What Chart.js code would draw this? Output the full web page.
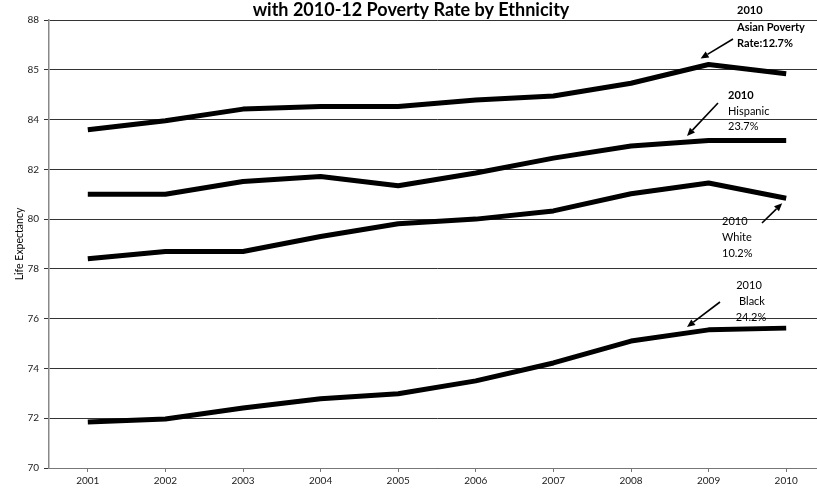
<!DOCTYPE html>
<html>
<head>
<meta charset="utf-8">
<script src="https://cdn.jsdelivr.net/npm/chart.js@4/dist/chart.umd.min.js"></script>
<style>
  html, body { margin: 0; padding: 0; background: #fff; overflow: hidden; }
  #wrap { width: 817px; height: 496px; overflow: hidden; position: relative; }
  canvas { display: block; }
</style>
</head>
<body>
<div id="wrap"><canvas id="c" width="830" height="496"></canvas></div>
<script>
// Years on the category axis
const years = ['2001','2002','2003','2004','2005','2006','2007','2008','2009','2010'];

// Life expectancy by ethnicity
const asian    = [83.59, 83.95, 84.42, 84.52, 84.52, 84.79, 84.95, 85.46, 86.21, 85.84];
const hispanic = [81.00, 81.00, 81.51, 81.71, 81.34, 81.85, 82.45, 82.94, 83.16, 83.16];
const white    = [78.41, 78.70, 78.70, 79.30, 79.81, 80.00, 80.33, 81.02, 81.45, 80.84];
const black    = [71.85, 71.97, 72.41, 72.78, 72.98, 73.50, 74.22, 75.10, 75.55, 75.62];

// Value-axis ticks and the labels printed beside them
const yTickValues = [70, 72, 74, 76, 78, 80, 82, 84, 86, 88];
const yTickLabels = ['70', '72', '74', '76', '78', '80', '82', '84', '85', '88'];

// Callout notes: label lines and the series/year they point at
const notes = [
  { lines: ['2010', 'Asian Poverty', 'Rate:12.7%'], series: asian,    at: 8 },
  { lines: ['2010', 'Hispanic', '23.7%'],           series: hispanic, at: 7 },
  { lines: ['2010', 'White', '10.2%'],              series: white,    at: 9 },
  { lines: ['2010', 'Black', '24.2%'],              series: black,    at: 7 }
];

const FONT = 'Lato, "Open Sans", sans-serif';

function series(label, data) {
  return {
    label, data,
    borderColor: '#000',
    borderWidth: 5,
    pointRadius: 0,
    tension: 0,
    fill: false,
    borderJoinStyle: 'round',
    borderCapStyle: 'butt'
  };
}

function arrow(ctx, x1, y1, x2, y2) {
  ctx.save();
  ctx.strokeStyle = '#000';
  ctx.fillStyle = '#000';
  ctx.lineWidth = 1.6;
  const a = Math.atan2(y2 - y1, x2 - x1);
  const hl = 8, hw = 3.5;
  const bx = x2 - hl * Math.cos(a), by = y2 - hl * Math.sin(a);
  ctx.beginPath();
  ctx.moveTo(x1, y1);
  ctx.lineTo(bx, by);
  ctx.stroke();
  ctx.beginPath();
  ctx.moveTo(x2, y2);
  ctx.lineTo(bx + hw * Math.sin(a), by - hw * Math.cos(a));
  ctx.lineTo(bx - hw * Math.sin(a), by + hw * Math.cos(a));
  ctx.closePath();
  ctx.fill();
  ctx.restore();
}

// Title line and the callouts with their arrows
const decorations = {
  id: 'decorations',
  afterDraw(chart) {
    const ctx = chart.ctx;
    const xs = chart.scales.x, ys = chart.scales.y;
    ctx.save();
    ctx.fillStyle = '#000';
    ctx.font = 'bold 18px ' + FONT;
    ctx.textAlign = 'center';
    ctx.textBaseline = 'alphabetic';
    ctx.fillText('with 2010-12 Poverty Rate by Ethnicity', 411, 16);

    ctx.textBaseline = 'middle';
    const px = (n) => xs.getPixelForValue(n.at);
    const py = (n) => ys.getPixelForValue(n.series[n.at]);
    const bold = 'bold 11px ' + FONT, reg = '11px ' + FONT;

    // Asian
    let n = notes[0];
    ctx.textAlign = 'left';
    ctx.font = bold;
    ctx.fillText(n.lines[0], 737, 10);
    ctx.fillText(n.lines[1], 737, 27);
    ctx.fillText(n.lines[2], 737, 43);
    arrow(ctx, 733, 39, px(n) - 8, py(n) - 6);

    // Hispanic
    n = notes[1];
    ctx.font = bold;
    ctx.fillText(n.lines[0], 728, 95);
    ctx.font = reg;
    ctx.fillText(n.lines[1], 728, 111);
    ctx.fillText(n.lines[2], 728, 126);
    arrow(ctx, 718, 103, 687, 136);

    // White
    n = notes[2];
    ctx.fillText(n.lines[0], 722, 221);
    ctx.fillText(n.lines[1], 722, 237);
    ctx.fillText(n.lines[2], 722, 253);
    arrow(ctx, 762, 223, px(n) - 4, py(n) + 5);

    // Black
    n = notes[3];
    ctx.textAlign = 'center';
    ctx.fillText(n.lines[0], 749, 285);
    ctx.fillText(n.lines[1], 752, 301);
    ctx.fillText(n.lines[2], 751, 317);
    arrow(ctx, 720, 302, 687, 327);
    ctx.restore();
  }
};

new Chart(document.getElementById('c'), {
  type: 'line',
  data: {
    labels: years,
    datasets: [
      series('Asian', asian),
      series('Hispanic', hispanic),
      series('White', white),
      series('Black', black)
    ]
  },
  options: {
    responsive: false,
    animation: false,
    layout: { padding: { top: 20, right: 5, left: 0, bottom: 0 } },
    plugins: {
      legend: { display: false },
      title: { display: false },
      tooltip: { enabled: false }
    },
    scales: {
      x: {
        type: 'category',
        offset: true,
        grid: {
          offset: false,
          drawOnChartArea: false,
          drawTicks: true,
          tickLength: 4,
          color: '#777'
        },
        border: { display: true, color: '#777', width: 1 },
        ticks: {
          font: { family: FONT, size: 10 },
          color: '#222',
          padding: 3,
          maxRotation: 0,
          autoSkip: false
        },
        afterFit(scale) { scale.height = 28; }
      },
      y: {
        min: 70,
        max: 88,
        afterBuildTicks(scale) {
          scale.ticks = yTickValues.map(v => ({ value: v }));
        },
        grid: {
          color: '#333',
          lineWidth: 1,
          drawTicks: true,
          tickLength: 5
        },
        border: { display: true, color: '#888', width: 1.5 },
        ticks: {
          font: { family: FONT, size: 10 },
          color: '#222',
          padding: 5,
          callback(value) {
            const i = yTickValues.indexOf(value);
            return i >= 0 ? yTickLabels[i] : '';
          }
        },
        title: {
          display: true,
          text: 'Life Expectancy',
          font: { family: FONT, size: 10.5 },
          color: '#000',
          padding: { top: 13, bottom: 0 }
        },
        afterFit(scale) { scale.width = 49; }
      }
    }
  },
  plugins: [decorations]
});
</script>
</body>
</html>
